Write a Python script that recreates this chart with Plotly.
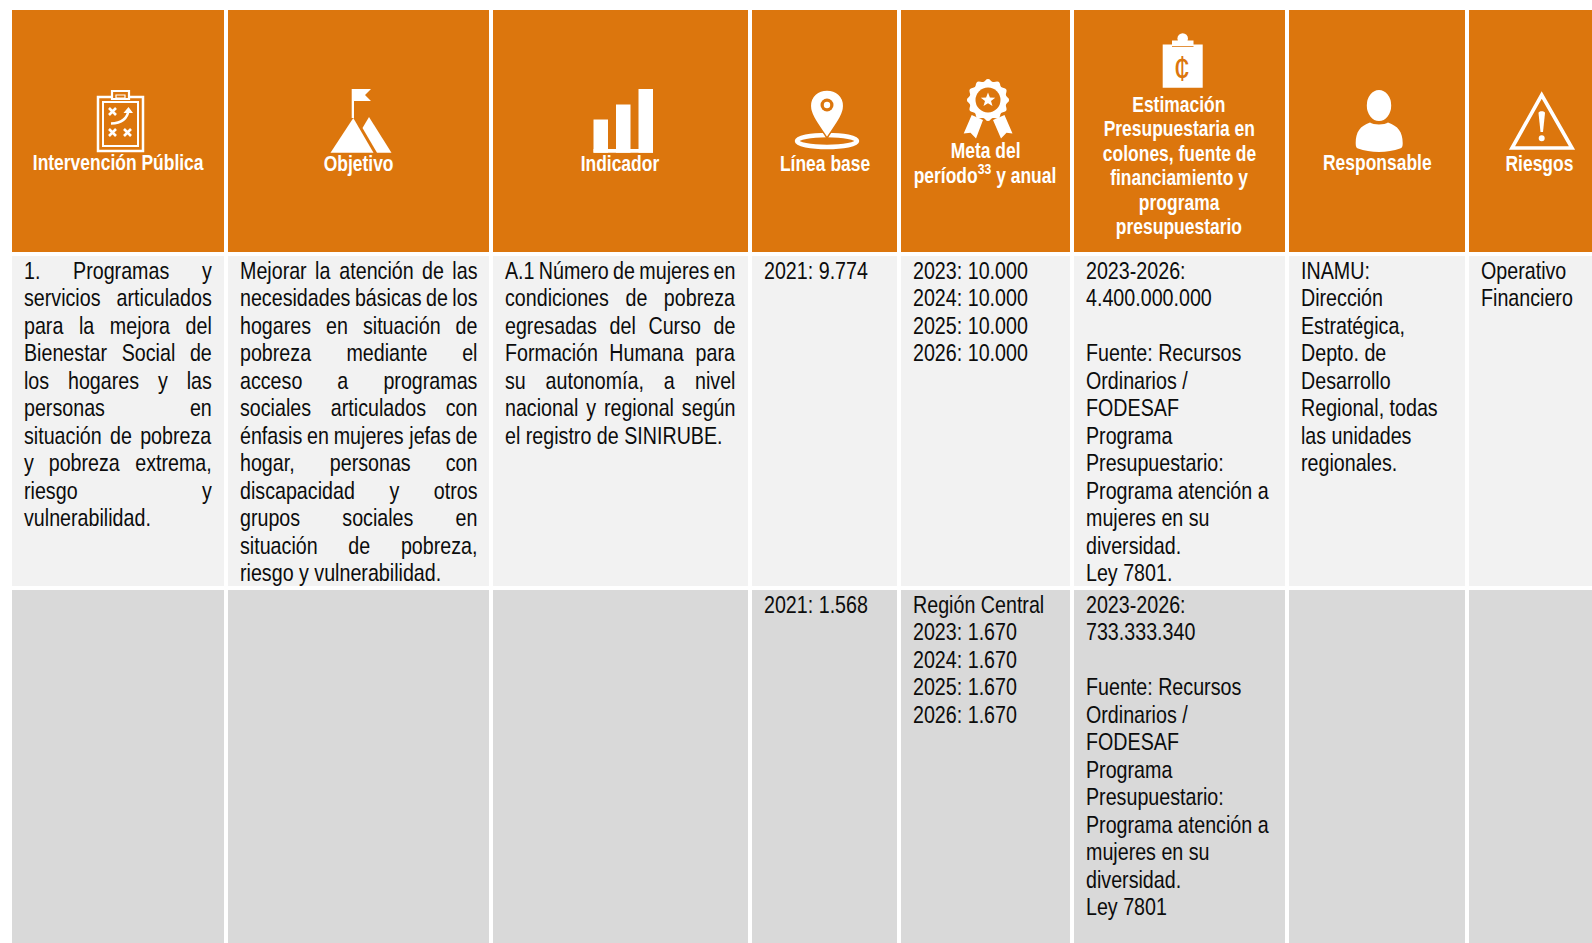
import math
import plotly.graph_objects as go

# ---------- data ----------
HEADERS = ["Intervención Pública", "Objetivo", "Indicador", "Línea base",
           ["Meta del", "período<sup>33</sup> y anual"],
           ["Estimación", "Presupuestaria en", "colones, fuente de", "financiamiento y", "programa", "presupuestario"],
           "Responsable", "Riesgos"]

INTERVENCION = ["1. Programas y", "servicios articulados", "para la mejora del", "Bienestar Social de",
                "los hogares y las", "personas en", "situación de pobreza", "y pobreza extrema,",
                "riesgo y", "vulnerabilidad."]
OBJETIVO = ["Mejorar la atención de las", "necesidades básicas de los", "hogares en situación de",
            "pobreza mediante el", "acceso a programas", "sociales articulados con",
            "énfasis en mujeres jefas de", "hogar, personas con", "discapacidad y otros",
            "grupos sociales en", "situación de pobreza,", "riesgo y vulnerabilidad."]
INDICADOR = ["A.1 Número de mujeres en", "condiciones de pobreza", "egresadas del Curso de",
             "Formación Humana para", "su autonomía, a nivel", "nacional y regional según",
             "el registro de SINIRUBE."]
LINEA_1 = ["2021: 9.774"]
META_1 = ["2023: 10.000", "2024: 10.000", "2025: 10.000", "2026: 10.000"]
PRESUP_1 = ["2023-2026:", "4.400.000.000", "", "Fuente: Recursos", "Ordinarios /", "FODESAF", "Programa",
            "Presupuestario:", "Programa atención a", "mujeres en su", "diversidad.", "Ley 7801."]
RESP_1 = ["INAMU:", "Dirección", "Estratégica,", "Depto. de", "Desarrollo", "Regional, todas",
          "las unidades", "regionales."]
RIESGOS_1 = ["Operativo", "Financiero"]
LINEA_2 = ["2021: 1.568"]
META_2 = ["Región Central", "2023: 1.670", "2024: 1.670", "2025: 1.670", "2026: 1.670"]
PRESUP_2 = ["2023-2026:", "733.333.340", "", "Fuente: Recursos", "Ordinarios /", "FODESAF", "Programa",
            "Presupuestario:", "Programa atención a", "mujeres en su", "diversidad.", "Ley 7801"]

# ---------- layout constants ----------
W, H = 1592, 943
COLS = [(12, 224), (228, 489), (493, 748), (752, 897), (901, 1070), (1074, 1285), (1289, 1465), (1469, 1592)]
ROWS = [(10, 252), (256, 586), (590, 943)]
PAD_L = [23.2, 239, 504, 763, 912, 1085, 1300, 1480]
PAD_R = [211, 476.5, 734.5]
HEAD_CX = [118, 358, 620, 824.5, 985, 1179, 1377, 1539.5]
ORANGE, LIGHT, GREY = "#DC760D", "#F2F2F2", "#D9D9D9"
FONT = "Liberation Sans"
SQUEEZE = 0.82
BODY_PX, HEAD_PX = 24, 21.3
PITCH = 27.5
HEAD_PITCH = 24.4
TXT = "#0c0c0c"

shapes, ann = [], []
def rect(x0, y0, x1, y1, color):
    shapes.append(dict(type="rect", x0=x0, x1=x1, y0=y0, y1=y1, fillcolor=color, line_width=0, layer="below"))
def path(d, fill="white", line=None, lw=0):
    shapes.append(dict(type="path", path=d, fillcolor=fill, line=dict(color=line or fill, width=lw), layer="above"))
def circ(cx, cy, rx, ry=None, fill="white", line=None, lw=0):
    ry = ry or rx
    shapes.append(dict(type="circle", x0=cx-rx, x1=cx+rx, y0=cy-ry, y1=cy+ry, fillcolor=fill,
                       line=dict(color=line or fill, width=lw), layer="above"))
def stroke(d, lw=2.5, color="white"):
    shapes.append(dict(type="path", path=d, fillcolor="rgba(0,0,0,0)", line=dict(color=color, width=lw), layer="above"))
def text(x, y, s, size=BODY_PX, color=TXT, anchor="left", bold=False, group=None):
    a = dict(x=x, y=y, text=f"<b>{s}</b>" if bold else s, xanchor=anchor, yanchor="middle", showarrow=False,
             align=anchor, borderpad=0, font=dict(family=FONT, size=size, color=color))
    if group:
        a["name"] = group
    ann.append(a)

# cells
for i, (a, b) in enumerate(COLS):
    rect(a, ROWS[0][0], b, ROWS[0][1], ORANGE)
    rect(a, ROWS[1][0], b, ROWS[1][1], LIGHT)
    rect(a, ROWS[2][0], b, ROWS[2][1], GREY)

# header text
HEAD_Y = [162.5, 163.5, 163.5, 163.5, None, None, 162.5, 163.5]
for i, h in enumerate(HEADERS):
    if isinstance(h, str):
        text(HEAD_CX[i], HEAD_Y[i], h, HEAD_PX, "white", "center", True)
    else:
        y0 = 150.5 if len(h) == 2 else 105
        for k, ln in enumerate(h):
            text(HEAD_CX[i], y0 + k*HEAD_PITCH, ln, HEAD_PX, "white", "center", True)

# body text
def plain(col, lines, y0):
    for k, ln in enumerate(lines):
        if ln:
            text(PAD_L[col], y0 + k*PITCH, ln)
def justified(col, lines, y0):
    L, R = PAD_L[col], PAD_R[col]
    for k, ln in enumerate(lines):
        y = y0 + k*PITCH
        if k == len(lines)-1:
            text(L, y, ln)
        else:
            for w in ln.split(" "):
                text(L, y, w, group=f"{col}-{k}:{R-L}")

Y1, Y2 = 270, 604
justified(0, INTERVENCION, Y1)
justified(1, OBJETIVO, Y1)
justified(2, INDICADOR, Y1)
plain(3, LINEA_1, Y1); plain(4, META_1, Y1); plain(5, PRESUP_1, Y1); plain(6, RESP_1, Y1); plain(7, RIESGOS_1, Y1)
plain(3, LINEA_2, Y2); plain(4, META_2, Y2); plain(5, PRESUP_2, Y2)

# ---------- icons ----------
def poly(pts):
    return "M" + " L".join(f"{x:.1f},{y:.1f}" for x, y in pts) + " Z"
# 1 clipboard with play
stroke(poly([(98,97),(143,97),(143,151),(98,151)]), 2.5)
stroke(poly([(103,102),(138,102),(138,146),(103,146)]), 2)
path(poly([(112,91),(129,91),(129,99),(112,99)]), ORANGE, "white", 2.2)
path(poly([(116,95),(125,95),(125,98),(116,98)]), ORANGE, "white", 1.2)
for cx, cy in [(112.5,111.5),(112.5,132.5),(127.5,132.5)]:
    stroke(f"M{cx-3.5},{cy-3.5} L{cx+3.5},{cy+3.5} M{cx-3.5},{cy+3.5} L{cx+3.5},{cy-3.5}", 2.6)
stroke("M111,123.5 Q127,123 128.5,110", 2.4)
path(poly([(123.5,113),(128.5,107),(133,113)]))
# 2 mountains
path(poly([(351.7,118),(354,118),(354,89),(351.7,89)]))
path(poly([(352,89),(371,89),(365,95),(371,101),(352,101)]))
path(poly([(353.3,118),(330.5,152.7),(373.5,152.7)]))
path(poly([(369,117),(362.5,128),(377,152.7),(391.5,152.7)]))
# 3 bars
for x0, x1, top in [(593.5,608,119.5),(616,630.5,104.5),(638.5,653,89)]:
    path(poly([(x0,top),(x1,top),(x1,152.7),(x0,152.7)]))
path(poly([(593.5,149),(653,149),(653,152.7),(593.5,152.7)]))
# 4 location pin
circ(827, 141, 30, 6, "rgba(0,0,0,0)", "white", 4.5)
path("M827,138 C820,127 810.3,116 810.3,106 C810.3,96 818,90 827,90 C836,90 843.7,96 843.7,106 C843.7,116 834,127 827,138 Z", "white", ORANGE, 1.5)
circ(827, 105, 6.5, None, ORANGE)
circ(827, 105, 3.2)
# 5 rosette
path(poly([(971.7,115),(963.7,133.5),(970.5,132.8),(976,138.5),(983,120)]))
path(poly([(993,120),(1001,138.5),(1006.5,132.8),(1012.5,133.5),(1004.5,115)]))
scal = []
for t in range(96):
    a = 2*math.pi*t/96
    r = 19.8 + 1.3*math.cos(12*a)
    scal.append((988 + r*math.sin(a), 100 - r*math.cos(a)))
path(poly(scal))
circ(988, 100, 12.5, None, ORANGE)
star = []
for t in range(10):
    a = math.pi*t/5
    r = 7.6 if t % 2 == 0 else 3.2
    star.append((988 + r*math.sin(a), 100 - r*math.cos(a)))
path(poly(star))
# 6 clipboard with colon sign
path(poly([(1162.7,44.5),(1172,44.5),(1172,40.5),(1193.5,40.5),(1193.5,44.5),(1202.7,44.5),(1202.7,87.7),(1162.7,87.7)]))
circ(1182.7, 38.5, 5.3)
path(poly([(1172,46),(1193.5,46),(1193.5,46.8),(1172,46.8)]), ORANGE)
text(1181.5, 67.5, "¢", 36, ORANGE, "center")
# 7 person
circ(1379, 105.5, 12.2, 15.5)
path("M1355.7,143 C1355.7,132 1360,126 1370,122.5 C1373,125 1385,125 1388,122.5 C1398,126 1402.7,132 1402.7,143 C1402.7,147 1402,148 1400,148.5 C1388,153 1370,153 1358,148.5 C1356.5,148 1355.7,147 1355.7,143 Z")
# 8 warning triangle
shapes.append(dict(type="path", path=poly([(1541.7,95),(1572,148),(1512,148)]), fillcolor="rgba(0,0,0,0)",
                   line=dict(color="white", width=3.6), layer="above"))
path("M1538.5,113 C1538.5,110.5 1545,110.5 1545,113 L1543,132 L1540.5,132 Z")
circ(1541.7, 138.3, 3)

fig = go.Figure()
fig.update_layout(width=W, height=H, margin=dict(l=0, r=0, t=0, b=0), paper_bgcolor="white", plot_bgcolor="white",
                  showlegend=False, shapes=shapes, annotations=ann,
                  xaxis=dict(range=[0, W], visible=False, fixedrange=True),
                  yaxis=dict(range=[H, 0], visible=False, fixedrange=True))

# Arial Narrow look: condense each text about its anchor; spread the words of justified lines
POST = """
document.body.style.margin='0';
var gd=document.getElementById('{plot_id}'), SQ=%s, lines={}, items=[];
gd.querySelectorAll('g.annotation').forEach(function(g){
  var an=gd.layout.annotations[+g.getAttribute('data-index')], t=g.querySelector('text.annotation-text');
  if(!t) return;
  var b=t.getBBox(), a=an.xanchor;
  var it={t:t,b:b,off:0,p:a==='left'?b.x:(a==='right'?b.x+b.width:b.x+b.width/2)};
  items.push(it);
  if(an.name){(lines[an.name]=lines[an.name]||[]).push(it);}
});
Object.keys(lines).forEach(function(k){
  var ws=lines[k], target=parseFloat(k.split(':')[1]), sum=0;
  ws.forEach(function(w){sum+=w.b.width*SQ;});
  var gap=ws.length>1?(target-sum)/(ws.length-1):0, x=0;
  ws.forEach(function(w){w.off=x; x+=w.b.width*SQ+gap;});
});
items.forEach(function(it){
  var old=it.t.getAttribute('transform')||'';
  it.t.setAttribute('transform',old+' translate('+(it.p+it.off)+',0) scale('+SQ+',1) translate('+(-it.p)+',0)');
});
""" % SQUEEZE
fig.write_html("out.html", config={"displayModeBar": False}, post_script=POST)
